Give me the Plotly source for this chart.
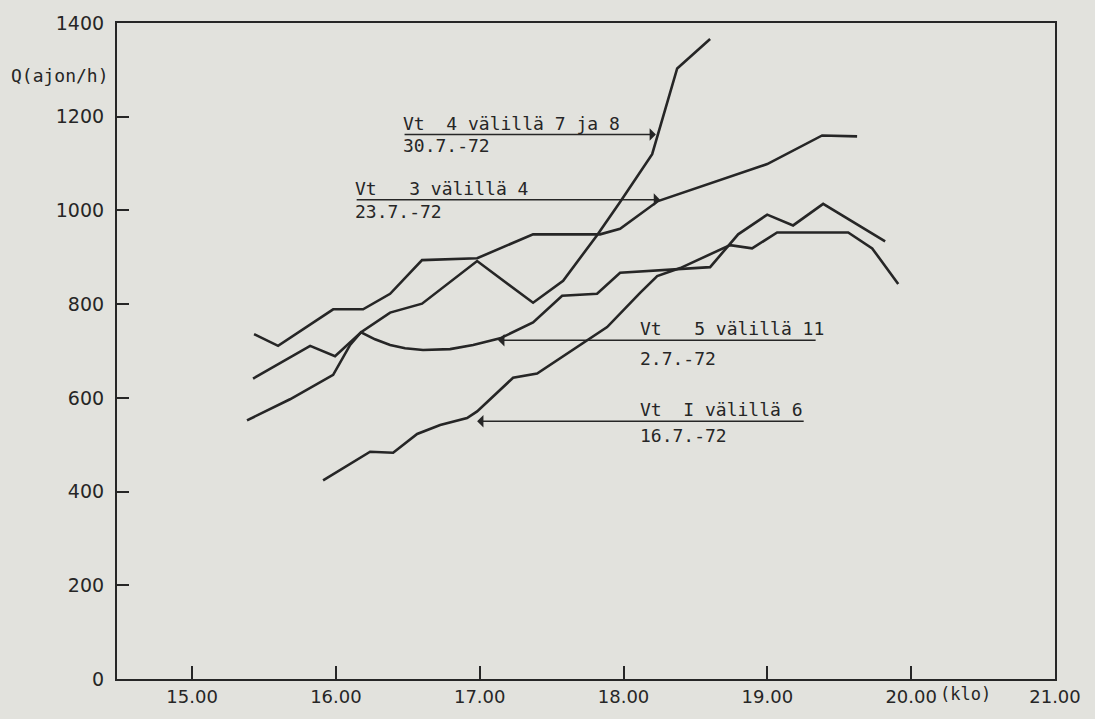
import plotly.graph_objects as go

# Liikennemäärä Q (ajon/h) kellonajan funktiona, neljä mittauspistettä
vt4_time = [15.382, 15.681, 15.981, 16.099, 16.175, 16.377, 16.599, 16.982, 17.371,
            17.580, 17.816, 17.976, 18.199, 18.373, 18.602]
vt4_q = [552, 597, 649, 713, 740, 782, 801, 892, 803, 850, 947, 1018, 1120, 1303, 1366]

vt3_time = [15.431, 15.598, 15.981, 16.189, 16.377, 16.599, 16.982, 17.371, 17.837,
            17.976, 18.240, 18.999, 19.381, 19.624]
vt3_q = [736, 711, 789, 789, 822, 894, 898, 949, 949, 961, 1020, 1099, 1160, 1158]

vt5_time = [15.424, 15.821, 15.994, 16.175, 16.272, 16.377, 16.481, 16.606, 16.794,
            16.954, 17.142, 17.371, 17.573, 17.816, 17.976, 18.303, 18.602, 18.797,
            18.999, 19.179, 19.388, 19.819]
vt5_q = [641, 711, 689, 740, 725, 713, 706, 702, 704, 713, 727, 761, 818, 822, 867,
         873, 879, 949, 991, 968, 1014, 934]

vt1_time = [15.911, 16.238, 16.398, 16.565, 16.725, 16.912, 16.982, 17.232, 17.399,
            17.886, 18.115, 18.234, 18.394, 18.741, 18.894, 19.068, 19.562, 19.729, 19.910]
vt1_q = [424, 485, 483, 523, 542, 557, 571, 643, 652, 751, 824, 860, 877, 926, 919,
         953, 953, 919, 843]

x_ticks = [15, 16, 17, 18, 19, 20, 21]
x_tick_text = ["15.00", "16.00", "17.00", "18.00", "19.00", "20.00", "21.00"]
y_ticks = [0, 200, 400, 600, 800, 1000, 1200, 1400]

# Selitteet: otsikko, päivämäärä, nuolen pää x, hännän x, taso y, tekstin alku x,
# päivämäärän pystysiirto
labels = [
    ("Vt  4 välillä 7 ja 8", "30.7.-72", 18.225, 16.467, 1162, 16.467, 2),
    ("Vt   3 välillä 4", "23.7.-72", 18.254, 16.134, 1023, 16.134, 1),
    ("Vt   5 välillä 11", "2.7.-72", 17.128, 19.346, 723, 18.115, -6),
    ("Vt  I välillä 6", "16.7.-72", 16.982, 19.263, 550, 18.115, -2),
]

INK = "#262626"
PAPER = "#e2e2dd"
FONT = "DejaVu Sans"
LETTERING = "DejaVu Sans Mono"

fig = go.Figure()
for t, q in [(vt4_time, vt4_q), (vt3_time, vt3_q), (vt5_time, vt5_q), (vt1_time, vt1_q)]:
    fig.add_trace(go.Scatter(x=t, y=q, mode="lines",
                             line=dict(color=INK, width=2.6),
                             showlegend=False, hoverinfo="skip"))

annotations = []
for title, date, head_x, tail_x, level, text_x, date_shift in labels:
    annotations.append(dict(x=head_x, y=level, ax=tail_x, ay=level,
                            xref="x", yref="y", axref="x", ayref="y",
                            text="", showarrow=True, arrowhead=1, arrowsize=1.4,
                            arrowwidth=1.5, arrowcolor=INK, standoff=0, startstandoff=0))
    annotations.append(dict(x=text_x, y=level, xref="x", yref="y", text=title,
                            showarrow=False, xanchor="left", yanchor="bottom",
                            xshift=-2, yshift=-1,
                            font=dict(family=LETTERING, size=18, color=INK)))
    annotations.append(dict(x=text_x, y=level, xref="x", yref="y", text=date,
                            showarrow=False, xanchor="left", yanchor="top",
                            xshift=-2, yshift=date_shift,
                            font=dict(family=LETTERING, size=18, color=INK)))

annotations.append(dict(x=0, y=1288, xref="paper", yref="y", text="Q(ajon/h)",
                        showarrow=False, xanchor="right", yanchor="middle", xshift=-6,
                        font=dict(family=LETTERING, size=18, color=INK)))
annotations.append(dict(x=20.375, y=0, xref="x", yref="y", text="(klo)",
                        showarrow=False, xanchor="center", yanchor="top", yshift=-3,
                        font=dict(family=LETTERING, size=17, color=INK)))

fig.update_layout(
    width=1095, height=719,
    margin=dict(l=117, r=40, t=19, b=36),
    paper_bgcolor=PAPER, plot_bgcolor=PAPER,
    annotations=annotations,
    font=dict(family=FONT, color=INK),
)
fig.update_xaxes(range=[14.478, 21.0], tickvals=x_ticks, ticktext=x_tick_text,
                 ticks="inside", ticklen=13, tickwidth=2, tickcolor=INK,
                 showline=True, mirror=True, linewidth=2.2, linecolor=INK,
                 showgrid=False, zeroline=False,
                 tickfont=dict(family=FONT, size=18, color=INK))
fig.update_yaxes(range=[0, 1400], tickvals=y_ticks,
                 ticks="inside", ticklen=12, tickwidth=2, tickcolor=INK,
                 ticklabelstandoff=7,
                 showline=True, mirror=True, linewidth=2.2, linecolor=INK,
                 showgrid=False, zeroline=False,
                 tickfont=dict(family=FONT, size=19, color=INK))

fig.write_html("out.html")
